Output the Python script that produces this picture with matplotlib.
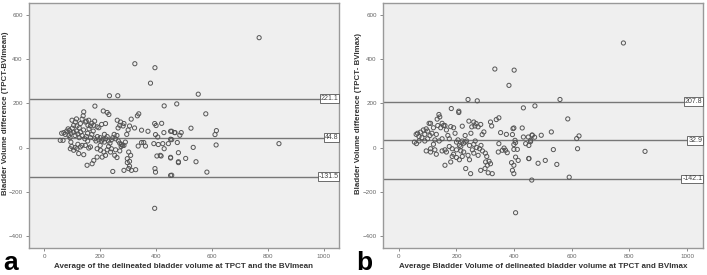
import matplotlib.pyplot as plt

plt.rcParams['font.family'] = ['Liberation Sans', 'DejaVu Sans']

# Bland-Altman panels: TPCT vs BVImean (a) and TPCT vs BVImax (b)

# panel a
xa = [769, 324, 396, 380, 233, 263, 551, 429, 474, 578, 231, 338, 333, 311, 525, 456, 466, 490, 616, 611,
      456, 615, 533, 840, 452, 480, 506, 543, 582, 456,
      261, 273, 285, 305, 270, 282, 264, 219, 395, 400, 420, 323, 348, 371, 428, 452, 468, 485, 398, 406,
      348, 356, 362, 336, 276, 285, 392, 408, 424, 444, 452, 429, 476, 480, 415, 403, 418, 452, 302, 309,
      297, 305, 237, 252, 297, 305, 302, 245, 285, 312, 327, 396, 398, 452, 480, 395,
      181, 141, 139, 135, 211, 225, 99, 111, 105, 117, 129, 147, 159, 156, 165, 177, 189,
      57, 67, 62, 70, 75, 80, 85, 90, 88, 95, 100, 92, 105, 110, 115, 120, 125, 130, 135, 140,
      145, 150, 155, 160, 165, 170, 175, 180, 185, 190, 195, 200, 205, 210, 215, 220, 225, 230, 235, 240,
      245, 255, 260, 265, 270, 275, 280, 290, 295, 300, 250, 215, 195, 205, 180, 170, 150, 125, 115,
      93, 105, 117, 129, 135, 147, 159, 165, 189, 201, 213, 219, 207, 189, 177, 171, 153, 123, 141, 98,
      110, 120, 230, 240, 255, 260, 270, 225, 200, 155, 95]
ya = [498, 380, 362, 292, 235, 235, 242, 189, 198, 153, 150, 153, 144, 129, 88, 74, 68, 68, 77, 59,
      36, 12, 1, 18, -44, -64, -49, -64, -111, -125,
      124, 116, 109, 98, 101, 98, 89, 109, 109, 100, 110, 89, 79, 74, 68, 74, 68, 56, 59, 48,
      23, 23, 7, 7, 14, 10, 18, 14, 18, 18, 38, -5, 23, -23, -35, -38, -38, -47, -20, -35,
      -50, -62, -20, -35, -68, -84, -95, -108, -103, -103, -100, -95, -111, -126, -68, -275,
      188, 162, 144, 129, 166, 159, 124, 116, 101, 98, 109, 116, 124, 101, 98, 101, 94,
      33, 33, 65, 68, 60, 75, 85, 78, 55, 65, 88, 45, 70, 55, 75, 62, 45, 70, 55, 80,
      40, 50, 65, 85, 45, 60, 75, 40, 30, 50, 35, 45, 30, 38, 25, 40, 50, 30, 20, 35,
      45, 40, 55, 30, 20, 5, 10, 25, 60, 80, 60, 60, 90, 105, 120, 110, 120, 90, 130,
      -5, -12, -5, 3, 10, 10, -2, 3, -5, -12, -20, -35, -43, -43, -58, -73, -80, -27, -32, 5,
      0, 15, 5, -5, -10, -45, -15, -10, 10, 30, 25]
lines_a = [221.1, 44.8, -131.5]
labels_a = ["221.1", "44.8", "-131.5"]

# panel b
xb = [779, 559, 472, 586, 529, 462, 471, 494, 457, 617, 625, 620, 536, 854, 451, 483, 508, 548, 591, 461,
      333, 400, 382, 240, 272, 432, 208, 347, 338, 318, 322, 243, 260, 268, 284, 275, 264, 253, 220, 399,
      396, 428, 463, 353, 373, 394, 295, 289, 432, 449, 457, 440, 451, 403, 405, 399, 347, 365, 370, 359,
      345, 376, 399, 411, 451, 405, 414, 391, 399, 301, 313, 318, 307, 299, 324, 310, 284, 249, 232, 394,
      399, 405,
      182, 208, 139, 142, 133, 54, 61,
      60, 65, 70, 75, 80, 85, 90, 95, 100, 105, 110, 100, 108, 115, 120, 125, 130, 135, 145, 150,
      155, 160, 165, 170, 175, 180, 190, 195, 200, 205, 210, 215, 220, 225, 230, 235, 245, 255, 260, 265,
      270, 280, 285, 290, 300, 305, 250, 230, 150, 140, 120, 95, 110, 125, 130, 150, 160, 165, 175, 185,
      190, 200, 210, 220, 225, 160, 180, 185, 240, 245, 260, 275, 110, 90, 70, 200, 215]
yb = [474, 218, 189, 130, 71, 57, 47, 56, 27, 41, 53, -5, -9, -17, -49, -71, -58, -76, -134, -147,
      356, 351, 282, 218, 212, 180, 159, 135, 127, 116, 98, 120, 116, 109, 105, 94, 98, 94, 97, 89,
      86, 89, 56, 68, 60, 59, 71, 59, 48, 48, 33, 18, 10, 33, 23, 14, 18, -2, -12, -12,
      -20, -23, -8, -8, -50, -43, -58, -68, -80, -65, -62, -73, -80, -95, -118, -114, -103, -118, -95, -103,
      -118, -295,
      177, 165, 150, 139, 129, 25, 18,
      60, 65, 50, 70, 45, 80, 60, 85, 75, 110, 110, 40, 55, 65, 90, 35, 60, 100, 90, 110,
      100, 100, 80, 55, 40, 95, 90, 65, 25, 35, 10, 5, 30, 20, 25, 30, 10, -10, 15, 30,
      0, -5, 10, -15, -25, -40, 65, 55, 40, 30, 15, -15, -20, -10, -30, -15, -10, -20, 5, -5,
      -30, -45, -55, -40, -20, -80, -65, -40, -35, -55, -25, -35, -5, 30, 30, -10, -15]
lines_b = [207.8, 32.9, -142.1]
labels_b = ["207.8", "32.9", "-142.1"]

fig = plt.figure(figsize=(7.07, 2.75), dpi=100)
ax1 = fig.add_axes([0.041, 0.098, 0.4385, 0.891])
ax2 = fig.add_axes([0.5417, 0.098, 0.4526, 0.891])

panels = [
    (ax1, xa, ya, lines_a, labels_a, "Bladder Volume difference (TPCT-BVImean)",
     "Average of the delineated bladder volume at TPCT and the BVImean"),
    (ax2, xb, yb, lines_b, labels_b, "Bladder Volume difference (TPCT- BVImax)",
     "Average Bladder Volume of delineated bladder volume at TPCT and BVImax"),
]

for ax, x, y, hl, hlab, ylab, xlab in panels:
    ax.set_facecolor("#efefef")
    ax.scatter(x, y, s=9, facecolors="none", edgecolors="#555555", linewidths=0.7, zorder=3)
    for v, t in zip(hl, hlab):
        ax.axhline(v, color="#777777", linewidth=1.0, zorder=2)
        ax.text(0.998, v, t, transform=ax.get_yaxis_transform(), ha="right", va="center",
                fontsize=5, color="#444444", zorder=4,
                bbox=dict(boxstyle="square,pad=0.12", facecolor="white", edgecolor="#555555", linewidth=0.6))
    ax.set_xlim(-55, 1055)
    ax.set_ylim(-455, 655)
    ax.set_xticks(range(0, 1001, 200))
    ax.set_yticks(range(-400, 601, 200))
    ax.tick_params(labelsize=4.5, colors="#777777", length=2.5, width=0.6, labelcolor="#666666", pad=2)
    for s in ax.spines.values():
        s.set_color("#999999")
        s.set_linewidth(1.0)
    ax.set_ylabel(ylab, fontsize=5.7, fontweight="bold", color="#333333")
    ax.set_xlabel(xlab, fontsize=5.8, fontweight="bold", color="#333333", labelpad=3)

ax1.yaxis.set_label_coords(-0.066, 0.55)
ax2.yaxis.set_label_coords(-0.066, 0.55)

fig.text(0.004, 0.02, "a", fontsize=19, fontweight="bold", color="black")
fig.text(0.504, 0.02, "b", fontsize=19, fontweight="bold", color="black")

fig.savefig("out.png", dpi=100)
